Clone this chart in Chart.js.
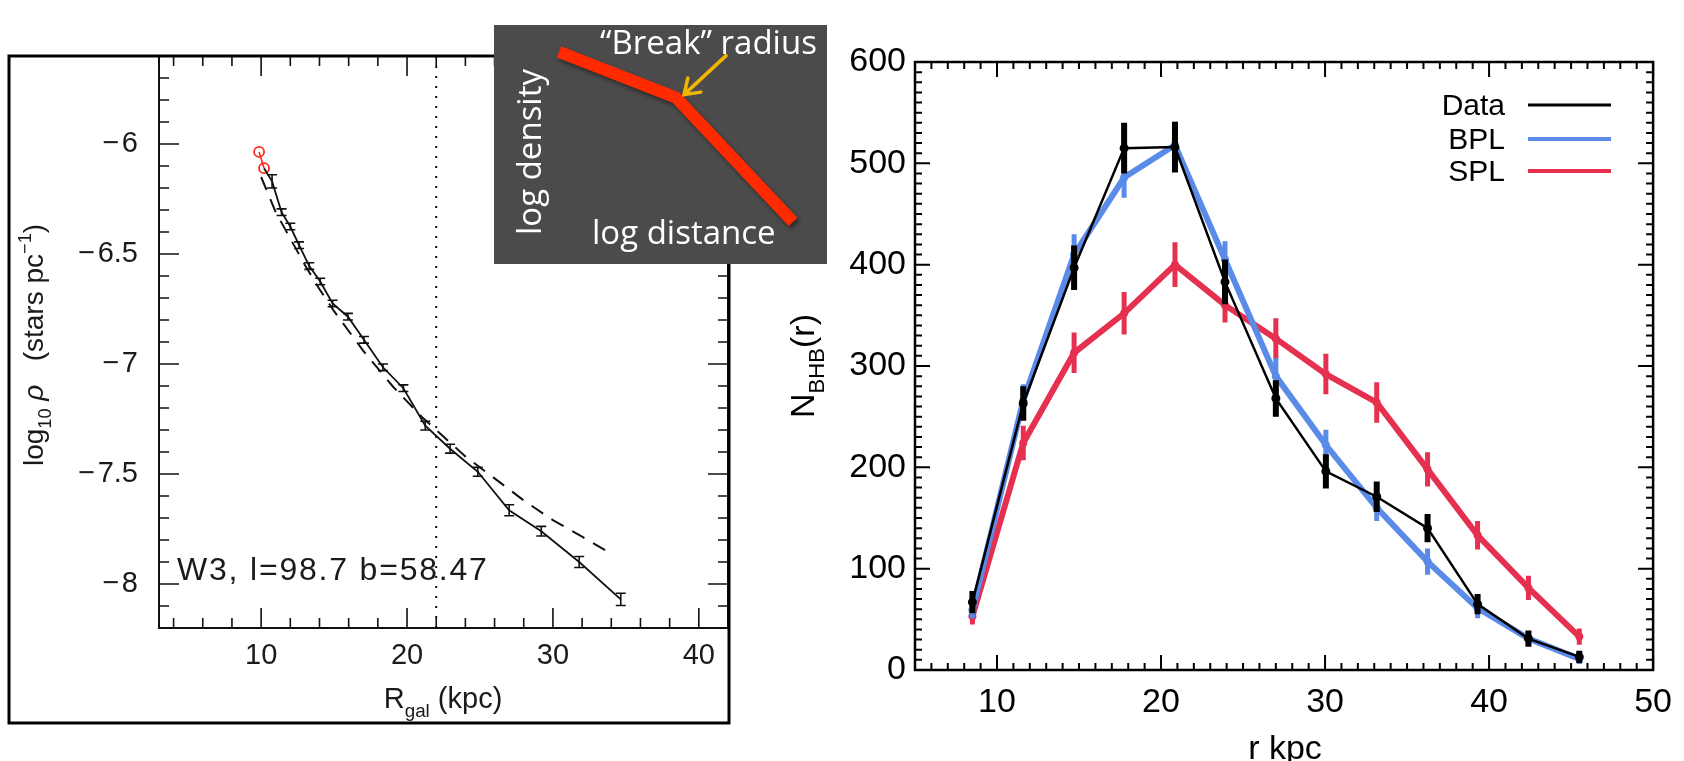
<!DOCTYPE html>
<html>
<head>
<meta charset="utf-8">
<title>Halo density profile: broken vs single power law</title>
<script src="https://cdn.jsdelivr.net/npm/chart.js@4.4.1/dist/chart.umd.min.js"></script>
<style>
  html, body { margin:0; padding:0; background:#fff; }
  body { width:1684px; height:761px; position:relative; overflow:hidden; }
  canvas { position:absolute; display:block; }
  #left  { left:0; top:0; width:760px; height:761px; z-index:1; }
  #right { left:740px; top:0; width:944px; height:761px; z-index:2; }
  #inset { left:494px; top:25px; width:333px; height:239px; z-index:3; }
</style>
</head>
<body>
<canvas id="left" width="760" height="761"></canvas>
<canvas id="right" width="944" height="761"></canvas>
<canvas id="inset" width="333" height="239"></canvas>
<script>
// ================= Left panel: W3 field density profile =================
const rgalKpc     = [10.2, 10.75, 11.4, 12.0, 12.6, 13.3, 14.05, 14.9, 15.95, 17.05, 18.35, 19.75, 21.25, 22.95, 24.85, 27.0, 29.2, 31.8, 34.65];
const log10Rho    = [-6.11, -6.17, -6.31, -6.375, -6.46, -6.555, -6.625, -6.725, -6.785, -6.89, -7.015, -7.11, -7.28, -7.385, -7.49, -7.665, -7.76, -7.9, -8.07];
const log10RhoErr = [0, 0.03, 0.015, 0.015, 0.015, 0.015, 0.015, 0.015, 0.015, 0.015, 0.015, 0.015, 0.02, 0.02, 0.02, 0.025, 0.022, 0.025, 0.028];
const innerRgal   = [9.86, 10.2];
const innerLogRho = [-6.036, -6.11];
const modelRgal   = [10.0, 11.0, 12.0, 13.0, 14.0, 15.0, 16.0, 17.0, 18.0, 19.0, 20.0, 21.0, 22.0, 24.0, 26.0, 28.0, 30.0, 32.0, 33.8];
const modelLogRho = [-6.15, -6.31, -6.43, -6.55, -6.66, -6.76, -6.85, -6.94, -7.02, -7.10, -7.17, -7.24, -7.30, -7.42, -7.52, -7.62, -7.71, -7.785, -7.855];
const breakRadiusKpc = 22;
const leftXTicks = [10, 20, 30, 40];
const leftYTicks = [-6, -6.5, -7, -7.5, -8];
const leftYTickLabels = ['\u2212\u200A6', '\u2212\u200A6.5', '\u2212\u200A7', '\u2212\u200A7.5', '\u2212\u200A8'];
const fieldLabel = 'W3, l=98.7 b=58.47';

// ================= Right panel: N_BHB(r) =================
const rKpc     = [8.5, 11.6, 14.7, 17.75, 20.85, 23.9, 27.0, 30.05, 33.15, 36.25, 39.3, 42.4, 45.5];
const nData    = [67, 263, 397, 515, 516, 383, 268, 196, 171, 140, 65, 31, 13];
const nDataErr = [11, 17, 22, 25, 25, 22, 18, 17, 15, 14, 10, 8, 6];
const nBPL     = [59, 266, 410, 486, 518, 405, 290, 222, 160, 107, 61, 31, 11];
const nBPLErr  = [8, 16, 20, 20, 23, 18, 18, 15, 13, 13, 10, 7, 5];
const nSPL     = [53, 224, 313, 352, 400, 360, 327, 292, 264, 198, 133, 81, 33];
const nSPLErr  = [8, 17, 20, 21, 22, 17, 20, 20, 20, 17, 14, 12, 8];
const seriesNames = ['Data', 'BPL', 'SPL'];
const rightXTicks = [10, 20, 30, 40, 50];
const rightYTicks = [0, 100, 200, 300, 400, 500, 600];

// ================= Inset schematic =================
const schematicLogDistance = [0, 1, 2];
const schematicLogDensity  = [0, -0.39, -1.45];
const schematicBreakLabel = '\u201CBreak\u201D radius';
const schematicXLabel = 'log distance';
const schematicYLabel = 'log density';

// ----------------------------------------------------------------
const SANS = "'Liberation Sans', Arial, Helvetica, sans-serif";
const CAL  = "'Open Sans', 'Noto Sans', sans-serif";
const BLUE = '#5a8be8';
const RED  = '#e5304f';

function pts(xs, ys) { return xs.map((x, i) => ({ x: x, y: ys[i] })); }
function minorList(min, max, step) {
  const out = [];
  for (let k = Math.ceil(min / step - 1e-9); k * step <= max + 1e-9; k++) out.push(+(k * step).toFixed(6));
  return out;
}
function drawRich(ctx, parts, x, y, o) {
  ctx.save();
  ctx.translate(x, y);
  if (o.rotate) ctx.rotate(o.rotate);
  let total = 0;
  const f = parts.map(p => {
    const s = (p.sub || p.sup) ? o.size * (o.subScale || 0.65) : o.size;
    const font = (p.italic ? 'italic ' : '') + s + 'px ' + o.family;
    ctx.font = font;
    const w = ctx.measureText(p.t).width;
    total += w;
    return { font, w };
  });
  let cx = o.align === 'left' ? 0 : -total / 2;
  ctx.fillStyle = o.color || '#000';
  ctx.textAlign = 'left';
  ctx.textBaseline = 'alphabetic';
  parts.forEach((p, i) => {
    ctx.font = f[i].font;
    const dy = p.sub ? o.size * 0.3 : (p.sup ? -o.size * 0.42 : 0);
    ctx.fillText(p.t, cx, dy);
    cx += f[i].w;
  });
  ctx.restore();
}

// inward ticks on all four sides + box
const frameTicks = {
  id: 'frameTicks',
  afterDatasetsDraw(chart, args, o) {
    const { ctx, chartArea: a } = chart;
    const xs = chart.scales.x, ys = chart.scales.y;
    ctx.save();
    ctx.strokeStyle = o.color;
    ctx.lineWidth = o.tickWidth;
    ctx.beginPath();
    const xt = (v, len) => {
      const p = xs.getPixelForValue(v);
      if (p < a.left - 0.5 || p > a.right + 0.5) return;
      ctx.moveTo(p, a.bottom); ctx.lineTo(p, a.bottom - len);
      ctx.moveTo(p, a.top);    ctx.lineTo(p, a.top + len);
    };
    const yt = (v, len) => {
      const p = ys.getPixelForValue(v);
      if (p < a.top - 0.5 || p > a.bottom + 0.5) return;
      ctx.moveTo(a.left, p);  ctx.lineTo(a.left + len, p);
      ctx.moveTo(a.right, p); ctx.lineTo(a.right - len, p);
    };
    o.xMinor.forEach(v => xt(v, o.minor));
    o.yMinor.forEach(v => yt(v, o.minor));
    o.xMajor.forEach(v => xt(v, o.major));
    o.yMajor.forEach(v => yt(v, o.major));
    ctx.stroke();
    ctx.lineWidth = o.axisWidth;
    ctx.strokeRect(a.left, a.top, a.right - a.left, a.bottom - a.top);
    ctx.restore();
  }
};

// vertical error bars drawn with the chart's own scales, right after each dataset
const errorBars = {
  id: 'errorBars',
  afterDatasetDraw(chart, args) {
    const ds = chart.data.datasets[args.index];
    if (!ds.errors) return;
    const { ctx } = chart;
    const xs = chart.scales.x, ys = chart.scales.y;
    ctx.save();
    ctx.strokeStyle = ds.errColor || ds.borderColor;
    ctx.lineWidth = ds.errWidth || 2;
    ctx.lineCap = 'butt';
    ctx.beginPath();
    ds.data.forEach((p, i) => {
      const e = ds.errors[i];
      if (!e) return;
      const px = xs.getPixelForValue(p.x);
      const y1 = ys.getPixelForValue(p.y - e), y2 = ys.getPixelForValue(p.y + e);
      ctx.moveTo(px, y1); ctx.lineTo(px, y2);
      if (ds.errCap) {
        ctx.moveTo(px - ds.errCap, y1); ctx.lineTo(px + ds.errCap, y1);
        ctx.moveTo(px - ds.errCap, y2); ctx.lineTo(px + ds.errCap, y2);
      }
    });
    ctx.stroke();
    ctx.restore();
  }
};

// ===================== LEFT CHART =====================
const leftDecor = {
  id: 'leftDecor',
  afterDraw(chart) {
    const ctx = chart.ctx;
    ctx.save();
    ctx.strokeStyle = '#000';
    ctx.lineWidth = 3;
    ctx.strokeRect(9, 56, 720, 667);
    ctx.restore();
    // annotation
    ctx.save();
    ctx.font = '32px ' + SANS;
    ctx.fillStyle = '#1a1a1a';
    try { ctx.letterSpacing = '1.8px'; } catch (e) {}
    ctx.textAlign = 'left';
    ctx.textBaseline = 'alphabetic';
    ctx.fillText(fieldLabel, 177, 580);
    ctx.restore();
    // axis titles
    drawRich(ctx, [{ t: 'R' }, { t: 'gal', sub: true }, { t: ' (kpc)' }], 443, 708,
      { size: 29, family: SANS, color: '#1a1a1a' });
    drawRich(ctx, [{ t: 'log' }, { t: '10', sub: true }, { t: ' ' }, { t: '\u03C1', italic: true },
      { t: '   (stars pc' }, { t: '\u22121', sup: true }, { t: ')' }], 43, 345,
      { size: 28, family: SANS, color: '#1a1a1a', rotate: -Math.PI / 2 });
  }
};

new Chart(document.getElementById('left'), {
  type: 'scatter',
  data: {
    datasets: [
      { label: 'Measured density', data: pts(rgalKpc, log10Rho), showLine: true, borderColor: '#111', borderWidth: 1.8,
        pointRadius: 0, errors: log10RhoErr, errWidth: 1.6, errCap: 5, errColor: '#111' },
      { label: 'Inner points', data: pts(innerRgal, innerLogRho), showLine: true, borderColor: '#ff2a1a', borderWidth: 1.6,
        pointRadius: 5, pointBorderWidth: 1.8, pointBorderColor: '#ff2a1a', pointBackgroundColor: 'rgba(0,0,0,0)' },
      { label: 'Single power law', data: pts(modelRgal, modelLogRho), showLine: true, borderColor: '#111', borderWidth: 2,
        borderDash: [14, 10], pointRadius: 0 },
      { label: 'Break radius', data: [{ x: breakRadiusKpc, y: -8.2 }, { x: breakRadiusKpc, y: -5.6 }], showLine: true,
        borderColor: '#111', borderWidth: 2, borderDash: [2, 8], pointRadius: 0 }
    ]
  },
  options: {
    responsive: false, animation: false,
    layout: { padding: { top: 56, right: 32, bottom: 0, left: 0 } },
    plugins: {
      legend: { display: false }, tooltip: { enabled: false },
      frameTicks: { color: '#111', tickWidth: 1.6, axisWidth: 2, major: 20, minor: 10,
        xMajor: leftXTicks, xMinor: minorList(3, 42, 2), yMajor: leftYTicks, yMinor: minorList(-8.2, -5.6, 0.1) }
    },
    scales: {
      x: { type: 'linear', min: 3, max: 42,
        afterBuildTicks: s => { s.ticks = leftXTicks.map(v => ({ value: v })); },
        afterFit: s => { s.height = 133; },
        grid: { display: false, drawTicks: false }, border: { display: false },
        ticks: { padding: 11, autoSkip: false, maxRotation: 0, color: '#1a1a1a', font: { family: SANS, size: 29 } } },
      y: { type: 'linear', min: -8.2, max: -5.6,
        afterBuildTicks: s => { s.ticks = leftYTicks.map(v => ({ value: v })); },
        afterFit: s => { s.width = 159; },
        grid: { display: false, drawTicks: false }, border: { display: false },
        ticks: { padding: 21, autoSkip: false, color: '#1a1a1a', font: { family: SANS, size: 29 },
          callback: (v, i) => leftYTickLabels[i] } }
    }
  },
  plugins: [frameTicks, errorBars, leftDecor]
});

// ===================== RIGHT CHART =====================
const rightDecor = {
  id: 'rightDecor',
  afterDraw(chart) {
    const ctx = chart.ctx;
    const ds = chart.data.datasets;
    const rows = [{ y: 105, w: 3 }, { y: 139, w: 4 }, { y: 171, w: 4 }];
    ctx.save();
    ctx.font = '30px ' + SANS;
    ctx.textAlign = 'right';
    ctx.textBaseline = 'alphabetic';
    rows.forEach((r, i) => {
      ctx.fillStyle = '#000';
      ctx.fillText(ds[i].label, 765, r.y + 10);
      ctx.strokeStyle = ds[i].borderColor;
      ctx.lineWidth = r.w;
      ctx.beginPath(); ctx.moveTo(788, r.y); ctx.lineTo(871, r.y); ctx.stroke();
    });
    ctx.restore();
    drawRich(ctx, [{ t: 'r kpc' }], 545, 759, { size: 34, family: SANS, color: '#000' });
    drawRich(ctx, [{ t: 'N' }, { t: 'BHB', sub: true }, { t: '(r)' }], 74, 366,
      { size: 34, family: SANS, color: '#000', rotate: -Math.PI / 2 });
  }
};

new Chart(document.getElementById('right'), {
  type: 'scatter',
  data: {
    datasets: [
      { label: seriesNames[0], data: pts(rKpc, nData), showLine: true, borderColor: '#000', borderWidth: 2.5,
        pointRadius: 4.5, pointBackgroundColor: '#000', pointBorderWidth: 0,
        errors: nDataErr, errWidth: 6, errColor: '#000' },
      { label: seriesNames[1], data: pts(rKpc, nBPL), showLine: true, borderColor: BLUE, borderWidth: 6,
        pointRadius: 4, pointBackgroundColor: BLUE, pointBorderWidth: 0,
        errors: nBPLErr, errWidth: 5, errColor: BLUE },
      { label: seriesNames[2], data: pts(rKpc, nSPL), showLine: true, borderColor: RED, borderWidth: 6,
        pointRadius: 4, pointBackgroundColor: RED, pointBorderWidth: 0,
        errors: nSPLErr, errWidth: 5, errColor: RED }
    ]
  },
  options: {
    responsive: false, animation: false,
    layout: { padding: { top: 62, right: 30, bottom: 0, left: 0 } },
    plugins: {
      legend: { display: false }, tooltip: { enabled: false },
      frameTicks: { color: '#000', tickWidth: 2, axisWidth: 2.5, major: 15, minor: 7,
        xMajor: rightXTicks, xMinor: minorList(5, 50, 1), yMajor: rightYTicks, yMinor: minorList(0, 600, 10) }
    },
    scales: {
      x: { type: 'linear', min: 5, max: 50,
        afterBuildTicks: s => { s.ticks = rightXTicks.map(v => ({ value: v })); },
        afterFit: s => { s.height = 91; },
        grid: { display: false, drawTicks: false }, border: { display: false },
        ticks: { padding: 12, autoSkip: false, maxRotation: 0, color: '#000', font: { family: SANS, size: 34 } } },
      y: { type: 'linear', min: 0, max: 600,
        afterBuildTicks: s => { s.ticks = rightYTicks.map(v => ({ value: v })); },
        afterFit: s => { s.width = 175; },
        grid: { display: false, drawTicks: false }, border: { display: false },
        ticks: { padding: 9, autoSkip: false, color: '#000', font: { family: SANS, size: 34 } } }
    }
  },
  plugins: [frameTicks, errorBars, rightDecor]
});

// ===================== INSET SCHEMATIC =====================
const insetDecor = {
  id: 'insetDecor',
  beforeDraw(chart) {
    const ctx = chart.ctx;
    ctx.save();
    ctx.fillStyle = '#4b4b4b';
    ctx.fillRect(0, 0, chart.width, chart.height);
    ctx.restore();
  },
  beforeDatasetsDraw(chart) {
    const ctx = chart.ctx;
    ctx.save();
    ctx.shadowColor = 'rgba(0,0,0,0.45)';
    ctx.shadowBlur = 4; ctx.shadowOffsetX = 2; ctx.shadowOffsetY = 3;
  },
  afterDatasetsDraw(chart) {
    chart.ctx.restore();
  },
  afterDraw(chart) {
    const ctx = chart.ctx;
    const xs = chart.scales.x, ys = chart.scales.y;
    ctx.save();
    ctx.fillStyle = '#ffffff';
    ctx.font = '33px ' + CAL;
    ctx.textBaseline = 'alphabetic';
    ctx.textAlign = 'left';
    ctx.fillText(schematicBreakLabel, 106, 29);
    ctx.fillText(schematicXLabel, 98, 219);
    ctx.translate(47, 127);
    ctx.rotate(-Math.PI / 2);
    ctx.textAlign = 'center';
    ctx.fillText(schematicYLabel, 0, 0);
    ctx.restore();
    // arrow pointing at the break
    const bx = xs.getPixelForValue(schematicLogDistance[1]);
    const by = ys.getPixelForValue(schematicLogDensity[1]);
    const tip = { x: bx + 8, y: by - 3 };
    const tail = { x: tip.x + 42, y: tip.y - 39 };
    const ang = Math.atan2(tail.y - tip.y, tail.x - tip.x);
    ctx.save();
    ctx.strokeStyle = '#f2b600';
    ctx.lineWidth = 3.5;
    ctx.lineCap = 'round';
    ctx.beginPath();
    ctx.moveTo(tail.x, tail.y); ctx.lineTo(tip.x, tip.y);
    ctx.moveTo(tip.x + 17 * Math.cos(ang + 0.6), tip.y + 17 * Math.sin(ang + 0.6));
    ctx.lineTo(tip.x, tip.y);
    ctx.lineTo(tip.x + 17 * Math.cos(ang - 0.6), tip.y + 17 * Math.sin(ang - 0.6));
    ctx.stroke();
    ctx.restore();
  }
};

new Chart(document.getElementById('inset'), {
  type: 'scatter',
  data: {
    datasets: [{ label: 'Broken power law', data: pts(schematicLogDistance, schematicLogDensity), showLine: true,
      borderColor: '#ff2a00', borderWidth: 12, borderCapStyle: 'butt', borderJoinStyle: 'miter', pointRadius: 0 }]
  },
  options: {
    responsive: false, animation: false,
    layout: { padding: 0 },
    plugins: { legend: { display: false }, tooltip: { enabled: false } },
    scales: {
      x: { type: 'linear', display: false, min: -0.556, max: 2.29 },
      y: { type: 'linear', display: false, min: -1.81, max: 0.23 }
    }
  },
  plugins: [insetDecor]
});
</script>
</body>
</html>
